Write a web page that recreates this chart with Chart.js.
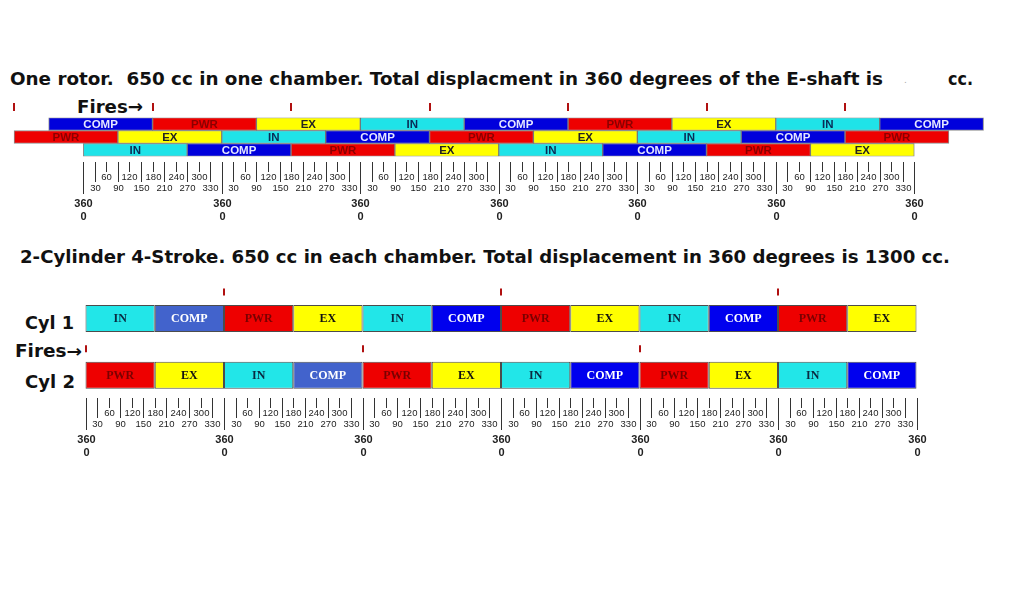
<!DOCTYPE html>
<html><head><meta charset="utf-8">
<script src="https://cdn.jsdelivr.net/npm/chart.js@4.4.1/dist/chart.umd.min.js"></script>
<style>
html,body{margin:0;padding:0;background:#fff;width:1016px;height:600px;overflow:hidden;position:relative}
.t{position:absolute;white-space:nowrap;font-family:"DejaVu Sans";font-weight:bold;color:#111;line-height:1;transform-origin:0 0}
canvas{position:absolute;left:0}
</style></head><body>
<div class="t" id="title1" style="left:10px;top:70px;font-size:18.5px">One rotor.&nbsp; 650 cc in one chamber. Total displacment in 360 degrees of the E-shaft is</div>
<div class="t" id="dot" style="left:904px;top:76px;font-size:9px;color:#aaa;font-weight:normal">.</div>
<div class="t" id="cc" style="left:948px;top:70px;font-size:18.5px">cc.</div>
<div class="t" id="fires1" style="left:77px;top:97.6px;font-size:18.5px">Fires→</div>
<div class="t" id="title2" style="left:20px;top:248.3px;font-size:18.5px">2-Cylinder 4-Stroke. 650 cc in each chamber. Total displacement in 360 degrees is 1300 cc.</div>
<div class="t" id="cyl1lab" style="left:25px;top:314.4px;font-size:18.5px">Cyl 1</div>
<div class="t" id="fires2" style="left:15px;top:342.9px;font-size:17px">Fires→</div>
<div class="t" id="cyl2lab" style="left:25px;top:372.5px;font-size:18.5px">Cyl 2</div>
<canvas id="rotor" width="1016" height="135" style="top:95px"></canvas>
<canvas id="cyl" width="1016" height="190" style="top:280px"></canvas>
<script>
// ---------- DATA ----------
// Rotary engine: three chamber rows, each segment = [phase, startDeg, endDeg] of E-shaft rotation
const rotorRow1 = [['COMP',-90,180],['PWR',180,450],['EX',450,720],['IN',720,990],['COMP',990,1260],['PWR',1260,1530],['EX',1530,1800],['IN',1800,2070],['COMP',2070,2340]];
const rotorRow2 = [['PWR',-180,90],['EX',90,360],['IN',360,630],['COMP',630,900],['PWR',900,1170],['EX',1170,1440],['IN',1440,1710],['COMP',1710,1980],['PWR',1980,2250]];
const rotorRow3 = [['IN',0,270],['COMP',270,540],['PWR',540,810],['EX',810,1080],['IN',1080,1350],['COMP',1350,1620],['PWR',1620,1890],['EX',1890,2160]];
const rotorFires = [-180,180,540,900,1260,1620,1980];
// 2-cylinder 4-stroke
const cyl1Row = [['IN',0,180],['COMP',180,360],['PWR',360,540],['EX',540,720],['IN',720,900],['COMP',900,1080],['PWR',1080,1260],['EX',1260,1440],['IN',1440,1620],['COMP',1620,1800],['PWR',1800,1980],['EX',1980,2160]];
const cyl2Row = [['PWR',0,180],['EX',180,360],['IN',360,540],['COMP',540,720],['PWR',720,900],['EX',900,1080],['IN',1080,1260],['COMP',1260,1440],['PWR',1440,1620],['EX',1620,1800],['IN',1800,1980],['COMP',1980,2160]];
const cyl1Fires = [360,1080,1800];
const cyl2Fires = [0,720,1440];
// degree scale
const revolutionMarks = [0,360,720,1080,1440,1800,2160];
const upperTickLabels = [60,120,180,240,300];
const lowerTickLabels = [30,90,150,210,270,330];
const markLabelTop = '360', markLabelBottom = '0';

// ---------- STYLE ----------
const PXDEG = 138.5/360;
const rotorColors = {IN:'#1fe3e8', COMP:'#0000dc', PWR:'#ee0000', EX:'#ffff00'};
const rotorText = {IN:'#0b2a55', COMP:'#e4e6ff', PWR:'#8a0000', EX:'#222'};
const cylColors = {IN:'#22e6e8', COMP:'#0000ee', COMP2:'#4263cc', PWR:'#ee0000', EX:'#ffff00'};
const cylText = {IN:'#0a2a40', COMP:'#ffffff', PWR:'#7a0000', EX:'#111'};

function decor(cfg){
  return {
    id:'decor_'+cfg.name,
    afterDatasetsDraw(chart){
      const ctx = chart.ctx, xs = chart.scales.x;
      ctx.save();
      // bar labels
      chart.data.datasets.forEach((ds,di)=>{
        const meta = chart.getDatasetMeta(di);
        meta.data.forEach((el,i)=>{
          const p = el.getProps(['x','base','y'], true);
          const ph = ds.phases[i];
          ctx.fillStyle = cfg.textColors[ph];
          ctx.font = cfg.labelFont;
          ctx.textAlign = 'center'; ctx.textBaseline = 'middle';
          ctx.fillText(ph, (p.x+p.base)/2, p.y + cfg.labelDy);
        });
      });
      // fire marks
      ctx.strokeStyle = '#b01010'; ctx.lineWidth = 2;
      cfg.fires.forEach(f=>{
        const el = chart.getDatasetMeta(f.row).data[0];
        const p = el.getProps(['y','height'], true);
        const top = p.y - p.height/2;
        f.values.forEach(v=>{
          const x = Math.round(xs.getPixelForValue(v));
          ctx.beginPath(); ctx.moveTo(x, top+cfg.fireDy[0]); ctx.lineTo(x, top+cfg.fireDy[1]); ctx.stroke();
        });
      });
      // degree axis
      const last = chart.getDatasetMeta(chart.data.datasets.length-1).data[0].getProps(['y','height'], true);
      const T = Math.round(last.y + last.height/2 + cfg.axisGap);
      ctx.strokeStyle = '#333'; ctx.lineWidth = 1; ctx.fillStyle = '#222';
      ctx.textAlign = 'center'; ctx.textBaseline = 'middle';
      const line = (v, len)=>{
        const x = Math.round(xs.getPixelForValue(v)) + 0.5;
        ctx.beginPath(); ctx.moveTo(x, T); ctx.lineTo(x, T+len); ctx.stroke();
        return x;
      };
      revolutionMarks.forEach((r, ri)=>{
        const x = line(r, 32);
        ctx.font = 'bold 11px "Liberation Sans"';
        ctx.fillText(markLabelTop, x, T+42);
        ctx.fillText(markLabelBottom, x, T+55);
        if (ri < revolutionMarks.length-1){
          ctx.font = '9.5px "Liberation Sans"';
          upperTickLabels.forEach(t=>{ const xx = line(r+t, 10); ctx.fillText(String(t), xx, T+15.5); });
          lowerTickLabels.forEach(t=>{ const xx = line(r+t, 20); ctx.fillText(String(t), xx, T+26); });
        }
      });
      ctx.restore();
    }
  };
}

function makeChart(id, rows, names, zeroPx, padTop, padBottom, barPct, colorFn, border, cfg){
  const w = 1016;
  return new Chart(document.getElementById(id), {
    type:'bar',
    data:{
      labels:names,
      datasets: rows.map((segs,ri)=>({
        data: segs.map(s=>({x:[s[1],s[2]], y:names[ri]})),
        phases: segs.map(s=>s[0]),
        backgroundColor: segs.map((s,i)=>colorFn(s[0], segs, i)),
        borderColor: border, borderWidth:1, borderSkipped:false,
        grouped:false, categoryPercentage:1, barPercentage:barPct
      }))
    },
    options:{
      indexAxis:'y', responsive:false, animation:false, events:[],
      layout:{padding:{top:padTop, bottom:padBottom, left:0, right:0}},
      plugins:{legend:{display:false}, tooltip:{enabled:false}},
      scales:{
        x:{type:'linear', min:-zeroPx/PXDEG, max:(w-zeroPx)/PXDEG, display:false},
        y:{type:'category', display:false}
      }
    },
    plugins:[decor(cfg)]
  });
}

makeChart('rotor', [rotorRow1, rotorRow2, rotorRow3], ['Chamber A','Chamber B','Chamber C'],
  83.3, 22.5, 73.5, 1, (ph)=>rotorColors[ph], 'rgba(0,0,0,0.45)',
  {name:'rotor', textColors:rotorText, labelFont:'bold 11.5px "Liberation Sans"', labelDy:0.5,
   fires:[{row:0, values:rotorFires}], fireDy:[-14.5,-6.5], axisGap:5.5});

makeChart('cyl', [cyl1Row, cyl2Row], ['Cyl 1','Cyl 2'],
  85.5, 10.1, 66.4, 0.476,
  (ph, segs, i)=>{ if (ph==='COMP' && segs.findIndex(s=>s[0]==='COMP')===i) return cylColors.COMP2; return cylColors[ph]; },
  'rgba(0,0,0,0.7)',
  {name:'cyl', textColors:cylText, labelFont:'bold 12px "Liberation Serif"', labelDy:0.5,
   fires:[{row:0, values:cyl1Fires},{row:1, values:cyl2Fires}], fireDy:[-16.5,-9.5], axisGap:9.5});

// fit HTML titles to their widths in the reference
const fits = {title1:873, cc:25, fires1:66, title2:930, cyl1lab:49, fires2:67, cyl2lab:50};
function doFit(){
  Object.entries(fits).forEach(([id,w])=>{
    const e = document.getElementById(id);
    e.style.transform = 'none';
    const r = e.getBoundingClientRect().width;
    e.style.transform = 'scaleX(' + (w/r) + ')';
  });
}
doFit();
if (document.fonts && document.fonts.ready) document.fonts.ready.then(doFit);
</script>
</body></html>
